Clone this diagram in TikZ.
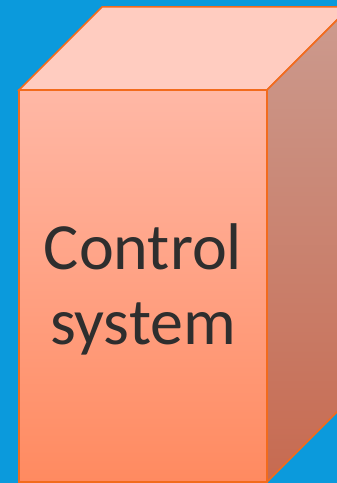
\documentclass[tikz,border=0pt]{standalone}
\usepackage{fontspec}
\setmainfont{Carlito}
\definecolor{bgblue}{HTML}{0B9ADC}
\definecolor{edge}{HTML}{F26B1D}
\definecolor{frontTop}{HTML}{FFB8A6}
\definecolor{frontBot}{HTML}{FF8A60}
\definecolor{topFace}{HTML}{FFCCC0}
\definecolor{sideTop}{HTML}{CC9B8F}
\definecolor{sideBot}{HTML}{C76A50}
\definecolor{txt}{HTML}{2E2E2E}
\tikzset{
  face/.style={draw=edge, line width=1.5pt, line join=miter},
  label/.style={text=txt, font=\fontsize{66}{75}\selectfont, anchor=base, inner sep=0pt}
}
\begin{document}
\begin{tikzpicture}[x=1pt,y=1pt]
\useasboundingbox (0,0) rectangle (337,483);
\fill[bgblue] (0,0) rectangle (337,483);
\begin{scope}
\clip (0,0) rectangle (337,483);
\shade[face, top color=frontTop, bottom color=frontBot] (19,1) rectangle (267,393);
\fill[topFace] (19,393) -- (102,476) -- (350,476) -- (267,393) -- cycle;
\draw[face] (19,393) -- (102,476) -- (350,476) -- (267,393) -- cycle;
\shade[top color=sideTop, bottom color=sideBot] (267,393) -- (350,476) -- (350,84) -- (267,1) -- cycle;
\draw[face] (267,393) -- (350,476) -- (350,84) -- (267,1) -- cycle;
\draw[face] (19,1) rectangle (267,393);
\end{scope}
\node[label] (l1) at (143,213) {Control};
\node[label] (l2) at (143,138) {system};
\end{tikzpicture}
\end{document}
